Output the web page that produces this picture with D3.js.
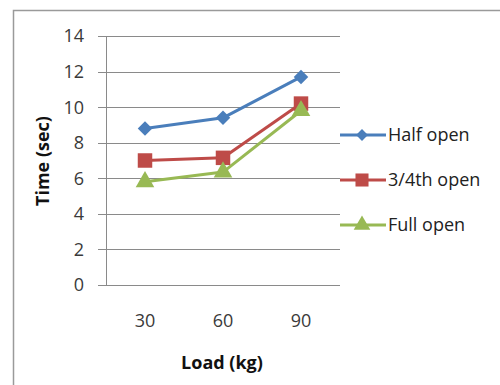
<!DOCTYPE html>
<html><head><meta charset="utf-8">
<script src="https://cdn.jsdelivr.net/npm/d3@7/dist/d3.min.js"></script>
<style>body{margin:0;background:#fff;} svg{display:block;font-family:"Open Sans",sans-serif;}</style>
</head><body>
<script>
const categories = ["30", "60", "90"];
const seriesNames = ["Half open", "3/4th open", "Full open"];
const halfOpen = [8.8, 9.4, 11.7];
const threeQuarterOpen = [7.0, 7.15, 10.2];
const fullOpen = [5.8, 6.35, 9.8];
const yTicks = [0, 2, 4, 6, 8, 10, 12, 14];
const colors = ["#4A7EBB", "#BE4B48", "#98B954"];
const symbols = [d3.symbolSquare, d3.symbolSquare, d3.symbolTriangle];
const rotations = [45, 0, 0];

const series = [halfOpen, threeQuarterOpen, fullOpen].map((v, i) => ({name: seriesNames[i], values: v, color: colors[i], symbol: symbols[i], rot: rotations[i]}));

const W = 500, H = 385;
const svg = d3.select("body").append("svg").attr("width", W).attr("height", H);

// outer frame
svg.append("rect").attr("x", 13.5).attr("y", 10.5).attr("width", 600).attr("height", 500)
  .attr("fill", "#fff").attr("stroke", "#9a9a9a").attr("stroke-width", 1.5);

const x = d3.scaleBand().domain(categories).range([106, 340]);
const y = d3.scaleLinear().domain([0, 14]).range([285, 36]);

// gridlines
svg.append("g").selectAll("line").data(yTicks).join("line")
  .attr("x1", 98).attr("x2", 340)
  .attr("y1", d => Math.round(y(d)) + 0.5).attr("y2", d => Math.round(y(d)) + 0.5)
  .attr("stroke", "#8a8a8a").attr("stroke-width", 1);
// y axis line
svg.append("line").attr("x1", 106.5).attr("x2", 106.5).attr("y1", y(14)).attr("y2", y(0) + 0.5)
  .attr("stroke", "#8a8a8a").attr("stroke-width", 1);

// y tick labels
svg.append("g").selectAll("text").data(yTicks).join("text")
  .attr("x", 84).attr("y", d => y(d)).attr("dy", "0.36em")
  .attr("text-anchor", "end").attr("font-size", 18).attr("fill", "#3a3a3a")
  .text(d => d);

// x tick labels
svg.append("g").selectAll("text").data(categories).join("text")
  .attr("x", d => x(d) + x.bandwidth() / 2).attr("y", 327)
  .attr("text-anchor", "middle").attr("font-size", 18).attr("fill", "#3a3a3a")
  .text(d => d);

// axis titles
svg.append("text").attr("transform", "translate(49,161) rotate(-90)")
  .attr("text-anchor", "middle").attr("font-size", 18).attr("font-weight", "bold").attr("fill", "#111")
  .text("Time (sec)");
svg.append("text").attr("x", 222).attr("y", 369)
  .attr("text-anchor", "middle").attr("font-size", 18).attr("font-weight", "bold").attr("fill", "#111")
  .text("Load (kg)");

const line = d3.line().x((d, i) => x(categories[i]) + x.bandwidth() / 2).y(d => y(d));

series.forEach(s => {
  svg.append("path").datum(s.values).attr("d", line)
    .attr("fill", "none").attr("stroke", s.color).attr("stroke-width", 3).attr("stroke-linejoin", "round");
});
const markerSizes = [105, 210, 150];
series.forEach((s, si) => {
  svg.append("g").selectAll("path").data(s.values).join("path")
    .attr("d", d3.symbol().type(s.symbol).size(markerSizes[si]))
    .attr("transform", (d, i) => `translate(${x(categories[i]) + x.bandwidth() / 2},${y(d)}) rotate(${s.rot})`)
    .attr("fill", s.color);
});

// legend
const legendY = [135, 180, 225];
const legendSizes = [70, 170, 120];
series.forEach((s, i) => {
  const g = svg.append("g").attr("transform", `translate(0,${legendY[i]})`);
  g.append("line").attr("x1", 340).attr("x2", 386).attr("y1", 0).attr("y2", 0)
    .attr("stroke", s.color).attr("stroke-width", 3);
  g.append("path").attr("d", d3.symbol().type(s.symbol).size(legendSizes[i]))
    .attr("transform", `translate(362,0) rotate(${s.rot})`).attr("fill", s.color);
  g.append("text").attr("x", 388).attr("y", 0).attr("dy", "0.36em")
    .attr("font-size", 18).attr("fill", "#222").text(s.name);
});
</script>
</body></html>
